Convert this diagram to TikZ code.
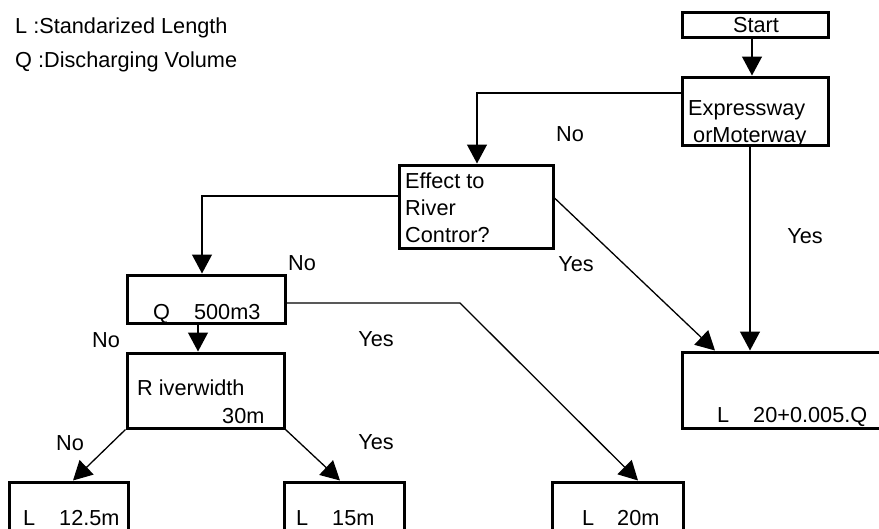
\documentclass[tikz,border=0pt]{standalone}
\usepackage{fontspec}
\setmainfont{Liberation Sans}
\usetikzlibrary{arrows.meta}
\begin{document}
\begin{tikzpicture}[x=1pt,y=-1pt,
  font=\fontsize{21.7}{27}\selectfont,
  box/.style={draw, line width=3pt, inner sep=0pt},
  arr/.style={line width=1.3pt, -{Triangle[length=19pt,width=20pt]}},
  txt/.style={inner sep=0pt, anchor=base west},
  lbl/.style={inner sep=0pt, anchor=base}]
\useasboundingbox (0,0) rectangle (879,528);
\clip (0,0) rectangle (879,528);

% legend
\node[txt] (legL) at (15,33) {L :Standarized Length};
\node[txt] (legQ) at (15,67) {Q :Discharging Volume};

% boxes
\node[box, minimum width=146pt, minimum height=25pt] (start) at (755,24.5) {};
\node[box, minimum width=146pt, minimum height=68pt] (expr) at (755,111) {};
\node[box, minimum width=154pt, minimum height=83pt] (effect) at (476,206.5) {};
\node[box, minimum width=158pt, minimum height=48pt] (qbox) at (206,299) {};
\node[box, minimum width=157pt, minimum height=75pt] (river) at (205.5,390.5) {};
\node[box, minimum width=228pt, minimum height=76pt] (result) at (796,390) {};
\node[box, minimum width=119pt, minimum height=78pt] (b125) at (68.5,521) {};
\node[box, minimum width=120pt, minimum height=78pt] (b15) at (344,521) {};
\node[box, minimum width=131pt, minimum height=78pt] (b20) at (617.5,521) {};

% box texts
\node[lbl] (tstart) at (756,32) {Start};
\node[txt] (texp1) at (688,115) {Expressway};
\node[txt] (texp2) at (693,142) {orMoterway};
\node[txt] (teff1) at (405,188) {Effect to};
\node[txt] (teff2) at (405,215) {River};
\node[txt] (teff3) at (405,242) {Contror?};
\node[txt] (tq) at (153,319) {Q\hspace{24pt}500m3};
\node[txt] (triv1) at (137,395) {R iverwidth};
\node[txt] (triv2) at (222,423) {30m};
\node[txt] (tres) at (717,422) {L\hspace{24pt}20+0.005.Q};
\node[txt] (t125) at (23,525) {L\hspace{24pt}12.5m};
\node[txt] (t15) at (296,525) {L\hspace{24pt}15m};
\node[txt] (t20) at (582,525) {L\hspace{23pt}20m};

% connectors
\draw[arr] ([xshift=-3pt]start.south) -- ([xshift=-3pt]expr.north);
\draw[arr] ([yshift=18pt]expr.west) -| ([xshift=1pt]effect.north);
\draw[arr] ([yshift=10.5pt]effect.west) -| ([xshift=-4pt]qbox.north);
\coordinate (qbend) at (460,303);
\draw[arr] ([yshift=-4pt]qbox.east) -- (qbend) -- ([xshift=20.5pt]b20.north);
\draw[arr] ([xshift=-8pt]qbox.south) -- ([xshift=-7.5pt]river.north);
\draw[arr] (river.south west) -- ([xshift=4.5pt]b125.north);
\draw[arr] (river.south east) -- ([xshift=-4pt]b15.north);
\draw[arr] ([yshift=8.5pt]effect.east) -- ([xshift=-81pt]result.north);
\draw[arr] ([xshift=-5pt]expr.south) -- ([xshift=-46pt]result.north);

% branch labels
\node[lbl] (lno1) at (570,141) {No};
\node[lbl] (lyes1) at (576,271) {Yes};
\node[lbl] (lyes2) at (805,243) {Yes};
\node[lbl] (lno2) at (302,270) {No};
\node[lbl] (lyes3) at (376,346) {Yes};
\node[lbl] (lno3) at (106,347) {No};
\node[lbl] (lno4) at (70,450) {No};
\node[lbl] (lyes4) at (376,449) {Yes};
\end{tikzpicture}
\end{document}
